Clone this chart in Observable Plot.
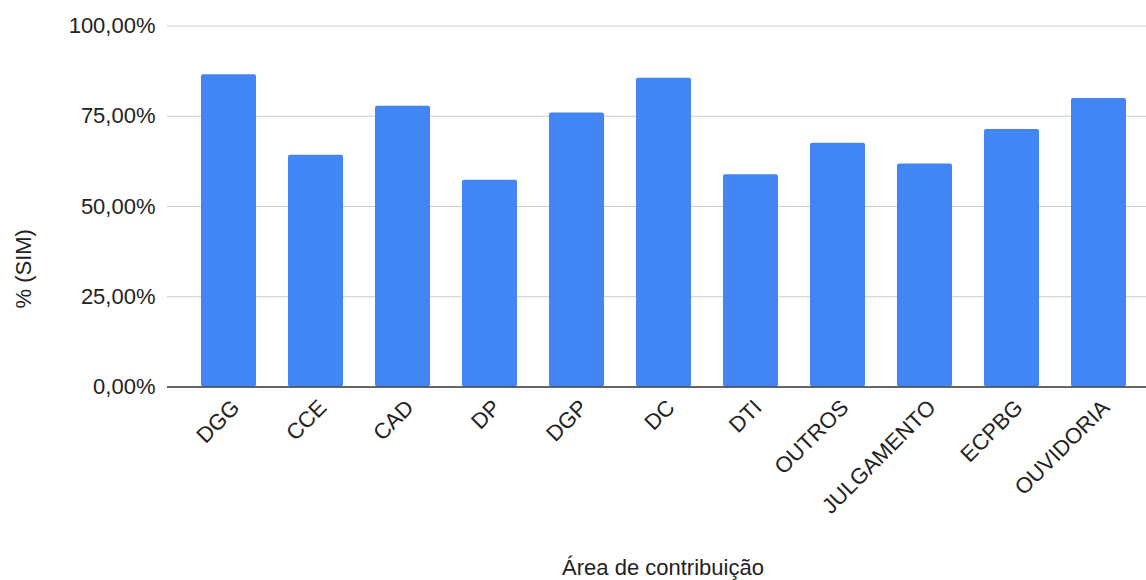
<!DOCTYPE html>
<html><head><meta charset="utf-8">
<script src="https://cdn.jsdelivr.net/npm/d3@7"></script>
<script src="https://cdn.jsdelivr.net/npm/@observablehq/plot@0.6"></script>
<style>body{margin:0;background:#fff;}</style>
</head><body><div id="chart"></div>
<script>
const categories = ["DGG","CCE","CAD","DP","DGP","DC","DTI","OUTROS","JULGAMENTO","ECPBG","OUVIDORIA"];
const values = [0.865,0.642,0.778,0.573,0.759,0.855,0.588,0.675,0.618,0.713,0.799];
const yTicks = [0,0.25,0.5,0.75,1];
const xTitle = "Área de contribuição";
const yTitle = "% (SIM)";
const data = categories.map((c,i)=>({c, v: values[i]}));
const fmt = d => (d*100).toFixed(2).replace(".", ",") + "%";
const chart = Plot.plot({
  width: 1146, height: 580,
  marginLeft: 167, marginRight: 0, marginTop: 25.5, marginBottom: 193.5,
  style: {fontFamily: "'Liberation Sans', Arial, sans-serif", fontSize: "22px", color: "#222", background: "#fff", overflow: "visible"},
  x: {domain: categories, range: [167.3, 1160.7], padding: 0.365, label: null},
  y: {domain: [0,1], label: null},
  marks: [
    Plot.ruleY(yTicks.slice(1), {stroke: "#ccc", strokeWidth: 1}),
    Plot.barY(data, {x: "c", y: "v", fill: "#4285F4", rx: 2}),
    Plot.ruleY([0], {stroke: "#333", strokeWidth: 1.3}),
    Plot.axisY({ticks: yTicks, tickFormat: fmt, tickSize: 0, tickPadding: 12, label: null, fontSize: 22}),
    Plot.axisX({tickRotate: -45, tickSize: 0, tickPadding: 17, dx: 7, label: null, fontSize: 22}),
    Plot.text([xTitle], {text: d => d, frameAnchor: "bottom", dx: 6, dy: 188, fontSize: 22, fill: "#222"}),
    Plot.text([yTitle], {text: d => d, frameAnchor: "left", rotate: -90, dx: -144, dy: 102, fontSize: 22, fill: "#222"})
  ]
});
document.getElementById("chart").appendChild(chart);
</script>
</body></html>
